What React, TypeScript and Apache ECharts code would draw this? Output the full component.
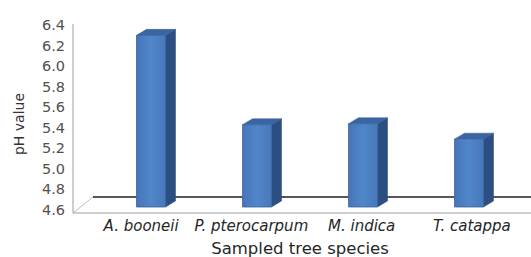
import React, { useEffect, useRef } from 'react';
import * as echarts from 'echarts';

const species = ['A. booneii', 'P. pterocarpum', 'M. indica', 'T. catappa'];
const phValues = [6.27, 5.4, 5.41, 5.26];
const yMin = 4.6;
const yMax = 6.4;
const yStep = 0.2;
const yTitle = 'pH value';
const xTitle = 'Sampled tree species';

const FONT = '"DejaVu Sans", Verdana, sans-serif';

export default function App() {
  const ref = useRef<HTMLDivElement>(null);
  useEffect(() => {
    const chart = echarts.init(ref.current!, null, { renderer: 'svg' });
    const W = 29; // front face width
    const DX = 10; // depth offset x
    const DY = 6; // depth offset y
    const LIFT = 3; // front face sits a bit behind the front floor edge
    chart.setOption({
      animation: false,
      backgroundColor: '#ffffff',
      grid: [
        { left: 73, top: 25, width: 458, height: 185 },
        { left: 98, top: 25, width: 424, height: 185 },
        { left: 86, top: 25, width: 441, height: 185 },
      ],
      xAxis: [
        { gridIndex: 0, type: 'category', data: species, show: false },
        { gridIndex: 1, type: 'category', data: species, show: false },
        {
          gridIndex: 2,
          type: 'category',
          data: species,
          axisLine: { show: false },
          axisTick: { show: false },
          axisLabel: {
            margin: 8,
            fontFamily: FONT,
            fontStyle: 'italic',
            fontSize: 15,
            color: '#262626',
            interval: 0,
          },
        },
      ],
      yAxis: [
        {
          gridIndex: 0,
          type: 'value',
          min: yMin,
          max: yMax,
          interval: yStep,
          axisLine: { show: false },
          axisTick: { show: false },
          splitLine: { show: false },
          axisLabel: {
            margin: 8,
            fontFamily: FONT,
            fontSize: 14.5,
            color: '#505050',
            formatter: (v: number) => v.toFixed(1),
          },
        },
        { gridIndex: 1, type: 'value', min: yMin, max: yMax, show: false },
        { gridIndex: 2, type: 'value', min: yMin, max: yMax, show: false },
      ],
      graphic: [
        {
          type: 'line',
          z: 0,
          shape: { x1: 93, y1: 197, x2: 531, y2: 197 },
          style: { stroke: '#1f1f1f', lineWidth: 1.5 },
        },
        {
          type: 'line',
          z: 0,
          shape: { x1: 73, y1: 213, x2: 93, y2: 197 },
          style: { stroke: '#bdbdbd', lineWidth: 1 },
        },
        {
          type: 'line',
          z: 0,
          shape: { x1: 73, y1: 213, x2: 531, y2: 213 },
          style: { stroke: '#9e9e9e', lineWidth: 1 },
        },
        {
          type: 'line',
          z: 0,
          shape: { x1: 73, y1: 24, x2: 73, y2: 213 },
          style: { stroke: '#9e9e9e', lineWidth: 1 },
        },
        {
          type: 'text',
          x: 19,
          y: 124,
          rotation: Math.PI / 2,
          style: {
            text: yTitle,
            fontFamily: FONT,
            fontSize: 14,
            fill: '#333333',
            align: 'center',
            verticalAlign: 'middle',
          },
        },
        {
          type: 'text',
          x: 300,
          y: 248,
          style: {
            text: xTitle,
            fontFamily: FONT,
            fontSize: 16.5,
            fill: '#262626',
            align: 'center',
            verticalAlign: 'middle',
          },
        },
      ],
      series: [
        {
          type: 'custom',
          xAxisIndex: 1,
          yAxisIndex: 1,
          z: 2,
          data: phValues.map((v, i) => [i, v]),
          encode: { x: 0, y: 1 },
          renderItem: (params: any, api: any) => {
            const i = api.value(0);
            const v = api.value(1);
            const top = api.coord([i, v]);
            const base = api.coord([i, yMin]);
            const x0 = top[0] - W / 2;
            const x1 = top[0] + W / 2;
            const yt = top[1] - LIFT;
            const yb = base[1] - LIFT;
            return {
              type: 'group',
              children: [
                {
                  type: 'polygon',
                  shape: {
                    points: [
                      [x1, yt],
                      [x1 + DX, yt - DY],
                      [x1 + DX, yb - DY],
                      [x1, yb],
                    ],
                  },
                  style: { fill: '#2c4f82', stroke: '#284672', lineWidth: 0.5 },
                },
                {
                  type: 'polygon',
                  shape: {
                    points: [
                      [x0, yt],
                      [x0 + DX, yt - DY],
                      [x1 + DX, yt - DY],
                      [x1, yt],
                    ],
                  },
                  style: { fill: '#3a65a3', stroke: '#345c94', lineWidth: 0.5 },
                },
                {
                  type: 'rect',
                  shape: { x: x0, y: yt, width: W, height: yb - yt },
                  style: {
                    fill: new echarts.graphic.LinearGradient(0, 0, 1, 0, [
                      { offset: 0, color: '#4675b8' },
                      { offset: 0.5, color: '#5087ca' },
                      { offset: 1, color: '#4777ba' },
                    ]),
                    stroke: '#3b639c',
                    lineWidth: 0.8,
                  },
                },
              ],
            };
          },
        },
      ],
    });
    return () => chart.dispose();
  }, []);
  return (
    <div
      ref={ref}
      style={{ position: 'fixed', left: 0, top: 0, width: 531, height: 257 }}
    />
  );
}
